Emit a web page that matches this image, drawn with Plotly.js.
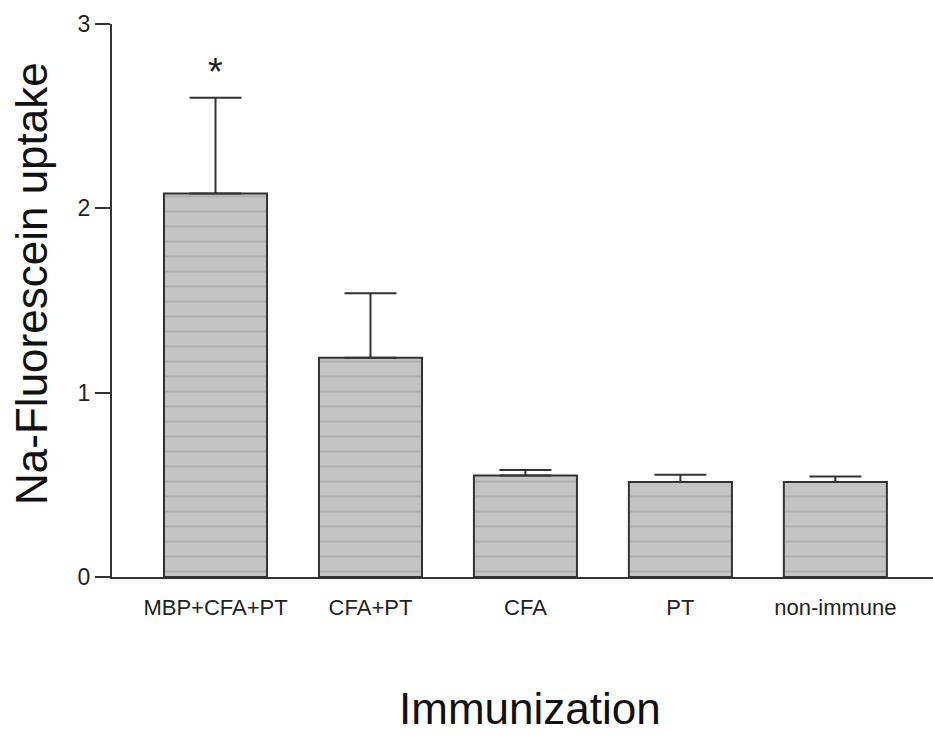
<!DOCTYPE html>
<html>
<head>
<meta charset="utf-8">
<script src="https://cdn.plot.ly/plotly-3.0.1.min.js"></script>
<style>html,body{margin:0;padding:0;background:#fff;}</style>
</head>
<body>
<div id="chart" style="width:933px;height:737px;"></div>
<script>
const categories = ["MBP+CFA+PT", "CFA+PT", "CFA", "PT", "non-immune"];
const meanUptake = [2.08, 1.19, 0.55, 0.515, 0.515];
const errorUp = [0.52, 0.35, 0.03, 0.04, 0.03];
const yTickVals = [0, 1, 2, 3];
const yTickText = ["0", "1", "2", "3"];
const significance = ["*", "", "", "", ""];
const xTitle = "Immunization";
const yTitle = "Na-Fluorescein uptake";

const FONT = '"Liberation Sans", Arial, Helvetica, sans-serif';

const trace = {
  type: 'bar',
  x: categories,
  y: meanUptake,
  width: 0.665,
  marker: {
    color: '#c4c4c4',
    line: {color: '#333333', width: 2},
    pattern: {shape: '-', bgcolor: '#c4c4c4', fgcolor: '#afafaf', size: 15, solidity: 0.13}
  },
  error_y: {
    type: 'data', symmetric: false, array: errorUp,
    arrayminus: categories.map(() => 0),
    color: '#333333', thickness: 2, width: 26
  },
  hoverinfo: 'x+y'
};

const annotations = categories.map((c, i) => ({
  x: c, y: meanUptake[i] + errorUp[i] + 0.14, xref: 'x', yref: 'y',
  text: significance[i], showarrow: false, yanchor: 'middle',
  font: {family: FONT, size: 38, color: '#222'}
})).filter(a => a.text);

annotations.push({
  xref: 'paper', yref: 'paper', x: 0.509, y: -0.237,
  xanchor: 'center', yanchor: 'middle', showarrow: false,
  text: xTitle, font: {family: FONT, size: 44, color: '#111'}
});
annotations.push({
  xref: 'paper', yref: 'paper', x: 0, xshift: -80, y: 0.53,
  xanchor: 'center', yanchor: 'middle', showarrow: false, textangle: -90,
  text: yTitle, font: {family: FONT, size: 44, color: '#111'}
});

const layout = {
  width: 933, height: 737,
  margin: {l: 112, r: 0, t: 24, b: 160},
  paper_bgcolor: '#ffffff', plot_bgcolor: '#ffffff',
  showlegend: false,
  xaxis: {
    type: 'category',
    range: [-0.668, 4.63],
    showline: true, linecolor: '#333333', linewidth: 2,
    ticks: '', showgrid: false, zeroline: false,
    tickfont: {family: FONT, size: 22, color: '#222'},
    ticklabelstandoff: 10
  },
  yaxis: {
    range: [0, 3],
    tickvals: yTickVals, ticktext: yTickText,
    showline: true, linecolor: '#333333', linewidth: 2,
    ticks: 'outside', ticklen: 15, tickwidth: 2, tickcolor: '#333333',
    showgrid: false, zeroline: false,
    tickfont: {family: FONT, size: 23, color: '#222'}
  },
  annotations: annotations
};

Plotly.newPlot('chart', [trace], layout, {displayModeBar: false, staticPlot: true});
</script>
</body>
</html>
